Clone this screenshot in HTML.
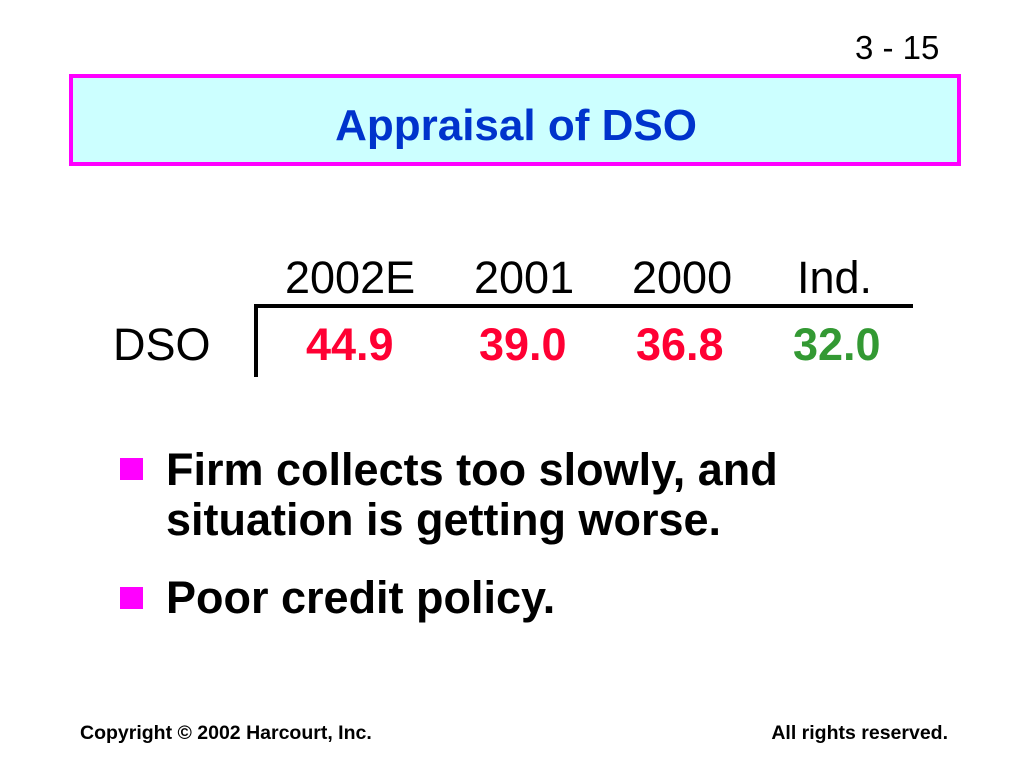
<!DOCTYPE html>
<html><head><meta charset="utf-8"><style>
body{margin:0;width:1024px;height:768px;background:#fff;position:relative;overflow:hidden;font-family:"Liberation Sans",Arial,sans-serif}
.a{position:absolute;white-space:nowrap;line-height:1}
.b{font-weight:bold}
.sq{position:absolute;width:23px;height:22px;background:#ff00ff}
</style></head><body>
<div class="a" style="left:855px;top:31px;font-size:33px">3 - 15</div>
<div style="position:absolute;left:69px;top:74px;width:884px;height:84px;border:4px solid #ff00ff;background:#ccffff"></div>
<div class="a b" style="left:70px;width:892px;text-align:center;top:104px;font-size:44px;color:#0033cc">Appraisal of DSO</div>

<div class="a" style="left:285px;top:255px;font-size:45px">2002E</div>
<div class="a" style="left:474px;top:255px;font-size:45px">2001</div>
<div class="a" style="left:632px;top:255px;font-size:45px">2000</div>
<div class="a" style="left:797px;top:255px;font-size:45px">Ind.</div>
<div style="position:absolute;left:254px;top:304px;width:659px;height:4px;background:#000"></div>
<div style="position:absolute;left:254px;top:304px;width:4px;height:73px;background:#000"></div>
<div class="a" style="left:113px;top:322px;font-size:45px">DSO</div>
<div class="a b" style="left:306px;top:322px;font-size:45px;color:#ff0033">44.9</div>
<div class="a b" style="left:479px;top:322px;font-size:45px;color:#ff0033">39.0</div>
<div class="a b" style="left:636px;top:322px;font-size:45px;color:#ff0033">36.8</div>
<div class="a b" style="left:793px;top:322px;font-size:45px;color:#339933">32.0</div>

<div class="sq" style="left:120px;top:458px"></div>
<div class="a b" style="left:166px;top:447px;font-size:45px">Firm collects too slowly, and</div>
<div class="a b" style="left:166px;top:497px;font-size:45px">situation is getting worse.</div>
<div class="sq" style="left:120px;top:587px"></div>
<div class="a b" style="left:166px;top:575px;font-size:45px">Poor credit policy.</div>

<div class="a b" style="left:80px;top:724px;font-size:19.5px">Copyright © 2002 Harcourt, Inc.</div>
<div class="a b" style="right:76px;top:724px;font-size:19.5px">All rights reserved.</div>
</body></html>
